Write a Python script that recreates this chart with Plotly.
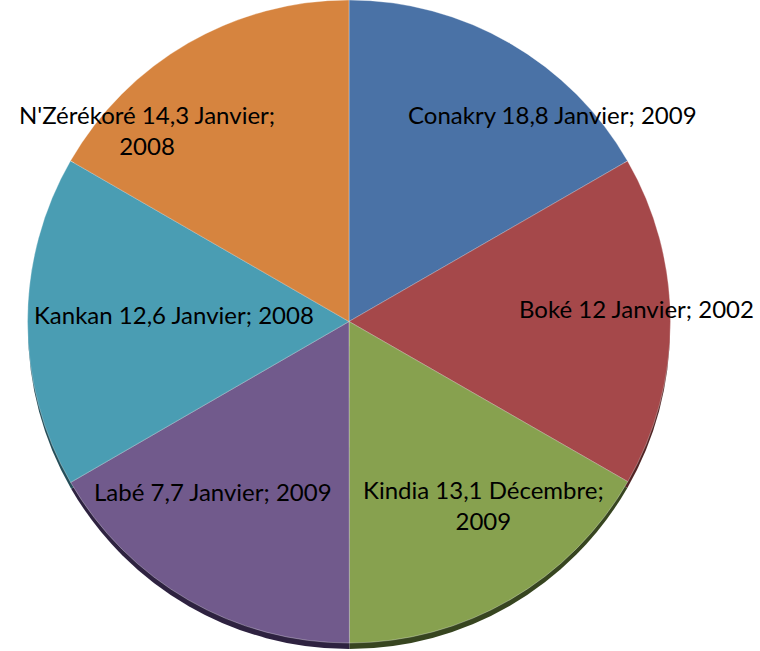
import plotly.graph_objects as go

# Regional data: category label and year value per region
regions = ["Conakry 18,8 Janvier", "Boké 12 Janvier", "Kindia 13,1 Décembre",
           "Labé 7,7 Janvier", "Kankan 12,6 Janvier", "N'Zérékoré 14,3 Janvier"]
years = [2009, 2002, 2009, 2009, 2008, 2008]

# Styling
face_colors = ["#4A72A6", "#A5484A", "#87A14F", "#715A8C", "#4A9DB3", "#D6843F"]
side_colors = ["#25395A", "#512424", "#374520", "#2E2240", "#244E59", "#6B4220"]
label_wrap = [False, False, True, False, False, True]
label_pos = [(552, 115), (636, 308), (483, 505), (213, 491), (174, 314), (147, 130)]

W, H = 760, 651
cx, cy, r = 349, 321, 322
depth = 7


def dom(cx, cy, r):
    return dict(x=[(cx - r) / W, (cx + r) / W],
                y=[max(0, 1 - (cy + r) / H), min(1, 1 - (cy - r) / H)])


fig = go.Figure()
# darker copy offset downward gives the pie its thickness
fig.add_trace(go.Pie(labels=regions, values=years, sort=False, direction="clockwise",
                     rotation=0, textinfo="none", hoverinfo="skip",
                     marker=dict(colors=side_colors, line=dict(width=0)),
                     domain=dom(cx, cy + depth, r - 1), showlegend=False))
fig.add_trace(go.Pie(labels=regions, values=years, sort=False, direction="clockwise",
                     rotation=0, textinfo="none",
                     marker=dict(colors=face_colors, line=dict(color="rgba(255,255,255,0.3)", width=1)),
                     domain=dom(cx, cy, r), showlegend=False))

for name, val, wrap, (px, py) in zip(regions, years, label_wrap, label_pos):
    text = f"{name};<br>{val}" if wrap else f"{name}; {val}"
    fig.add_annotation(x=px / W, y=1 - py / H, xref="paper", yref="paper",
                       text=text, showarrow=False, xanchor="center", yanchor="middle",
                       font=dict(family="Lato", size=24, color="#000000"), align="center")

fig.update_layout(width=W, height=H, margin=dict(l=0, r=0, t=0, b=0),
                  paper_bgcolor="white", plot_bgcolor="white", showlegend=False)
fig.write_html("out.html")
